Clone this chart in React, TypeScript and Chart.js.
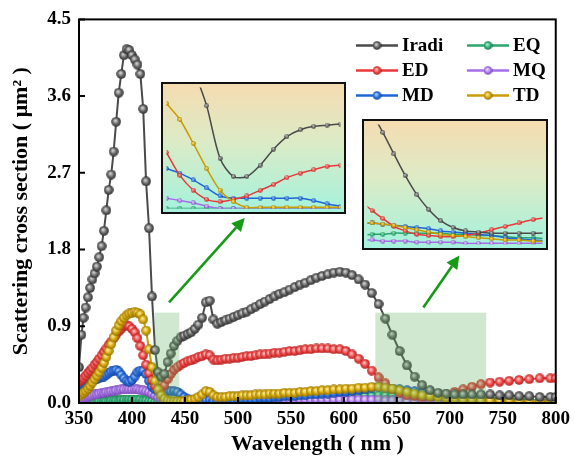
import React, { useEffect, useRef } from "react";
import { Chart, registerables } from "chart.js";
Chart.register(...registerables);

// ---------- DATA ----------
const WAVELENGTH = [
  350.0, 352.3, 354.3, 356.3, 358.4, 360.5, 362.6, 364.7, 366.9, 369.0,
  371.3, 373.5, 375.8, 378.0, 380.4, 382.7, 385.1, 387.5, 389.9, 392.4,
  394.9, 397.4, 400.0, 402.6, 405.2, 407.9, 410.6, 413.3, 416.1, 418.9,
  421.8, 424.7, 427.6, 430.6, 433.6, 436.6, 439.7, 442.9, 446.0, 449.3,
  452.6, 455.9, 459.3, 462.7, 466.2, 469.7, 473.3, 476.9, 480.6, 484.4,
  488.2, 492.1, 496.0, 500.0, 504.1, 508.2, 512.4, 516.7, 521.0, 525.4,
  529.9, 534.5, 539.1, 543.9, 548.7, 553.6, 558.6, 563.6, 568.8, 574.1,
  579.4, 584.9, 590.5, 596.2, 601.9, 607.8, 613.9, 620.0, 626.3, 632.7,
  639.2, 645.8, 652.6, 659.6, 666.7, 673.9, 681.3, 688.9, 696.6, 704.5,
  712.6, 720.9, 729.4, 738.1, 747.0, 756.1, 765.4, 775.0, 784.8, 794.9,
  800.0,
];

const IRADI = [
  0.42, 0.80, 1.00, 1.12, 1.24, 1.35, 1.45, 1.52, 1.60, 1.71,
  1.84, 2.02, 2.26, 2.50, 2.68, 2.95, 3.30, 3.64, 3.86, 4.08,
  4.15, 4.14, 4.08, 4.03, 3.97, 3.86, 3.45, 2.60, 2.05, 1.25,
  0.62, 0.36, 0.31, 0.34, 0.48, 0.58, 0.67, 0.73, 0.77, 0.79,
  0.81, 0.83, 0.87, 0.92, 1.00, 1.18, 1.20, 0.98, 0.93, 0.95,
  0.97, 0.99, 1.01, 1.03, 1.05, 1.07, 1.10, 1.13, 1.16, 1.19,
  1.22, 1.25, 1.28, 1.30, 1.33, 1.36, 1.39, 1.41, 1.44, 1.47,
  1.49, 1.51, 1.53, 1.54, 1.53, 1.50, 1.45, 1.39, 1.29, 1.16,
  0.99, 0.80, 0.61, 0.44, 0.31, 0.21, 0.15, 0.12, 0.11, 0.10,
  0.10, 0.10, 0.10, 0.10, 0.09, 0.09, 0.08, 0.08, 0.07, 0.07,
  0.07,
];

const ED = [
  0.25, 0.27, 0.29, 0.32, 0.35, 0.38, 0.41, 0.45, 0.48, 0.52,
  0.56, 0.60, 0.64, 0.68, 0.72, 0.76, 0.80, 0.84, 0.87, 0.90,
  0.91, 0.90, 0.87, 0.83, 0.76, 0.67, 0.56, 0.45, 0.35, 0.27,
  0.20, 0.16, 0.16, 0.21, 0.28, 0.34, 0.39, 0.42, 0.45, 0.47,
  0.49, 0.50, 0.52, 0.54, 0.55, 0.57, 0.56, 0.51, 0.50, 0.51,
  0.52, 0.52, 0.53, 0.53, 0.54, 0.55, 0.55, 0.56, 0.57, 0.57,
  0.58, 0.59, 0.59, 0.60, 0.61, 0.61, 0.62, 0.63, 0.63, 0.64,
  0.64, 0.64, 0.63, 0.63, 0.61, 0.57, 0.52, 0.46, 0.38, 0.30,
  0.23, 0.16, 0.12, 0.09, 0.08, 0.07, 0.07, 0.08, 0.10, 0.13,
  0.16, 0.19, 0.22, 0.24, 0.25, 0.26, 0.27, 0.28, 0.29, 0.29,
  0.29,
];

const MD = [
  0.20, 0.22, 0.23, 0.24, 0.25, 0.26, 0.26, 0.27, 0.28, 0.29,
  0.30, 0.31, 0.33, 0.35, 0.37, 0.38, 0.39, 0.37, 0.33, 0.29,
  0.26, 0.25, 0.27, 0.31, 0.36, 0.38, 0.38, 0.34, 0.26, 0.19,
  0.16, 0.14, 0.13, 0.13, 0.14, 0.14, 0.14, 0.13, 0.10, 0.07,
  0.05, 0.04, 0.03, 0.03, 0.03, 0.04, 0.04, 0.03, 0.03, 0.03,
  0.04, 0.04, 0.04, 0.04, 0.05, 0.05, 0.05, 0.05, 0.06, 0.06,
  0.06, 0.07, 0.07, 0.08, 0.08, 0.08, 0.09, 0.09, 0.10, 0.10,
  0.11, 0.11, 0.12, 0.13, 0.13, 0.14, 0.15, 0.16, 0.18, 0.19,
  0.18, 0.17, 0.16, 0.15, 0.14, 0.12, 0.11, 0.10, 0.09, 0.08,
  0.06, 0.05, 0.04, 0.03, 0.03, 0.02, 0.02, 0.02, 0.01, 0.01,
  0.01,
];

const EQ = [
  0.00, 0.00, 0.00, 0.01, 0.01, 0.01, 0.01, 0.01, 0.01, 0.02,
  0.02, 0.02, 0.02, 0.02, 0.03, 0.03, 0.03, 0.03, 0.04, 0.04,
  0.04, 0.04, 0.04, 0.04, 0.04, 0.04, 0.03, 0.03, 0.02, 0.02,
  0.01, 0.01, 0.01, 0.01, 0.01, 0.01, 0.01, 0.01, 0.01, 0.01,
  0.01, 0.01, 0.01, 0.01, 0.01, 0.02, 0.02, 0.01, 0.01, 0.01,
  0.02, 0.02, 0.02, 0.02, 0.02, 0.02, 0.02, 0.03, 0.03, 0.03,
  0.03, 0.03, 0.03, 0.04, 0.04, 0.04, 0.04, 0.04, 0.05, 0.05,
  0.05, 0.05, 0.06, 0.06, 0.06, 0.07, 0.07, 0.08, 0.08, 0.09,
  0.09, 0.10, 0.10, 0.10, 0.10, 0.10, 0.09, 0.09, 0.08, 0.08,
  0.07, 0.06, 0.06, 0.05, 0.05, 0.04, 0.04, 0.04, 0.03, 0.03,
  0.03,
];

const MQ = [
  0.03, 0.04, 0.05, 0.06, 0.07, 0.08, 0.09, 0.10, 0.10, 0.11,
  0.12, 0.12, 0.13, 0.13, 0.14, 0.14, 0.15, 0.15, 0.16, 0.16,
  0.16, 0.16, 0.16, 0.16, 0.16, 0.15, 0.15, 0.14, 0.13, 0.11,
  0.09, 0.07, 0.05, 0.03, 0.02, 0.01, 0.01, 0.01, 0.01, 0.01,
  0.01, 0.01, 0.01, 0.02, 0.02, 0.02, 0.02, 0.02, 0.02, 0.02,
  0.03, 0.03, 0.03, 0.03, 0.03, 0.03, 0.03, 0.03, 0.03, 0.03,
  0.04, 0.04, 0.04, 0.04, 0.04, 0.04, 0.04, 0.04, 0.04, 0.04,
  0.04, 0.04, 0.04, 0.04, 0.04, 0.04, 0.04, 0.04, 0.04, 0.04,
  0.03, 0.03, 0.03, 0.02, 0.02, 0.02, 0.02, 0.01, 0.01, 0.01,
  0.01, 0.01, 0.01, 0.01, 0.01, 0.01, 0.01, 0.01, 0.01, 0.01,
  0.01,
];

const TD = [
  0.08, 0.10, 0.12, 0.14, 0.17, 0.20, 0.24, 0.28, 0.32, 0.36,
  0.41, 0.47, 0.54, 0.61, 0.69, 0.77, 0.85, 0.91, 0.96, 1.00,
  1.03, 1.05, 1.06, 1.07, 1.06, 1.04, 0.98, 0.85, 0.63, 0.42,
  0.26, 0.16, 0.09, 0.05, 0.03, 0.02, 0.02, 0.02, 0.02, 0.02,
  0.03, 0.04, 0.05, 0.07, 0.10, 0.14, 0.13, 0.09, 0.07, 0.07,
  0.07, 0.08, 0.08, 0.08, 0.09, 0.09, 0.09, 0.10, 0.10, 0.10,
  0.11, 0.11, 0.11, 0.12, 0.12, 0.12, 0.13, 0.13, 0.14, 0.14,
  0.15, 0.15, 0.16, 0.16, 0.17, 0.17, 0.18, 0.18, 0.19, 0.19,
  0.18, 0.17, 0.15, 0.13, 0.11, 0.09, 0.08, 0.07, 0.06, 0.05,
  0.04, 0.04, 0.03, 0.03, 0.03, 0.03, 0.02, 0.02, 0.02, 0.02,
  0.02,
];

// Inset 1 (zoom of 421–447 nm)
const INSET1_WAVELENGTH = [421, 423, 425, 427, 429, 431, 433, 435, 437, 439, 441, 443, 445, 447];
const INSET1_IRADI = [2.20, 1.70, 1.24, 0.90, 0.44, 0.28, 0.28, 0.38, 0.52, 0.63, 0.69, 0.72, 0.73, 0.74];
const INSET1_ED = [0.49, 0.29, 0.16, 0.08, 0.06, 0.08, 0.11, 0.16, 0.21, 0.27, 0.31, 0.34, 0.37, 0.38];
const INSET1_MD = [0.35, 0.31, 0.25, 0.18, 0.11, 0.09, 0.09, 0.09, 0.09, 0.09, 0.09, 0.07, 0.04, 0.02];
const INSET1_EQ = [0.00, 0.00, 0.00, 0.00, 0.00, 0.00, 0.00, 0.00, 0.00, 0.00, 0.00, 0.00, 0.00, 0.00];
const INSET1_MQ = [0.09, 0.07, 0.05, 0.02, 0.00, 0.00, 0.00, 0.00, 0.00, 0.00, 0.00, 0.00, 0.00, 0.00];
const INSET1_TD = [0.92, 0.78, 0.57, 0.35, 0.16, 0.06, 0.01, 0.01, 0.01, 0.01, 0.01, 0.01, 0.01, 0.01];

// Highlighted regions [from, to] nm, up to a value, and arrows (data coords)
const ZOOM_REGIONS = [[421.3, 444.7], [629.7, 734.4]];
const ZOOM_TOP = 1.06;
const INSET2_RANGE = [630, 735];
const ARROWS = [
  { from: [435, 1.18], to: [506.5, 2.17] },
  { from: [675, 1.12], to: [709, 1.73] },
];

// ---------- STYLE ----------
const SERIF = '"Liberation Serif", "Times New Roman", serif';
type Sty = { line: string; base: string; light: string; dark: string };
const STYLE: Record<string, Sty> = {
  Iradi: { line: "#4a4a4a", base: "#6a6a6a", light: "#dcdcdc", dark: "#262626" },
  ED: { line: "#e8383c", base: "#ec4848", light: "#ffcaca", dark: "#b01a1a" },
  MD: { line: "#1e66d8", base: "#2f74e0", light: "#b8d6ff", dark: "#0f3f9a" },
  EQ: { line: "#2aa56c", base: "#33b077", light: "#bdf6da", dark: "#137048" },
  MQ: { line: "#a56ee6", base: "#b07eea", light: "#f0e6ff", dark: "#7040b0" },
  TD: { line: "#c99c00", base: "#d6a80c", light: "#fff2a6", dark: "#8c6c00" },
};

function sphere(s: Sty, size: number): HTMLCanvasElement {
  const c = document.createElement("canvas");
  c.width = size;
  c.height = size;
  const g = c.getContext("2d")!;
  const r = size / 2;
  const grad = g.createRadialGradient(r * 0.8, r * 0.75, r * 0.05, r, r, r);
  grad.addColorStop(0, s.light);
  grad.addColorStop(0.55, s.base);
  grad.addColorStop(1, s.dark);
  g.fillStyle = grad;
  g.beginPath();
  g.arc(r, r, r - 0.2, 0, Math.PI * 2);
  g.fill();
  return c;
}

function series(xs: number[], ys: number[]) {
  return xs.map((x, i) => ({ x, y: ys[i] }));
}

const MAIN_SERIES: [string, number[]][] = [
  ["Iradi", IRADI],
  ["TD", TD],
  ["ED", ED],
  ["MD", MD],
  ["MQ", MQ],
  ["EQ", EQ],
];
const INSET1_SERIES: [string, number[]][] = [
  ["Iradi", INSET1_IRADI],
  ["TD", INSET1_TD],
  ["ED", INSET1_ED],
  ["MD", INSET1_MD],
  ["MQ", INSET1_MQ],
  ["EQ", INSET1_EQ],
];

const LEGEND_ITEMS: [string, number, number][] = [
  ["Iradi", 0, 0],
  ["ED", 0, 1],
  ["MD", 0, 2],
  ["EQ", 1, 0],
  ["MQ", 1, 1],
  ["TD", 1, 2],
];

function drawArrow(ctx: CanvasRenderingContext2D, x1: number, y1: number, x2: number, y2: number) {
  const ang = Math.atan2(y2 - y1, x2 - x1);
  const head = 13;
  const hw = 6.5;
  const bx = x2 - head * Math.cos(ang);
  const by = y2 - head * Math.sin(ang);
  ctx.beginPath();
  ctx.moveTo(x1, y1);
  ctx.lineTo(bx, by);
  ctx.stroke();
  ctx.beginPath();
  ctx.moveTo(x2, y2);
  ctx.lineTo(bx + hw * Math.sin(ang), by - hw * Math.cos(ang));
  ctx.lineTo(bx - hw * Math.sin(ang), by + hw * Math.cos(ang));
  ctx.closePath();
  ctx.fill();
}

function makeMain(canvas: HTMLCanvasElement) {
  const markers: Record<string, HTMLCanvasElement> = {};
  const legendMarkers: Record<string, HTMLCanvasElement> = {};
  Object.keys(STYLE).forEach((k) => {
    markers[k] = sphere(STYLE[k], 10);
    legendMarkers[k] = sphere(STYLE[k], 9);
  });

  const overlay = {
    id: "overlay",
    afterDatasetsDraw(chart: any) {
      const { ctx, scales } = chart;
      const x = scales.x;
      const y = scales.y;
      ctx.save();
      ctx.fillStyle = "rgba(95,178,95,0.3)";
      ZOOM_REGIONS.forEach(([a, b]) => {
        const x1 = x.getPixelForValue(a);
        const x2 = x.getPixelForValue(b);
        const yt = y.getPixelForValue(ZOOM_TOP);
        const yb = y.getPixelForValue(0);
        ctx.fillRect(x1, yt, x2 - x1, yb - yt);
      });
      ctx.strokeStyle = "#179b17";
      ctx.fillStyle = "#179b17";
      ctx.lineWidth = 2.6;
      ARROWS.forEach((a) => {
        drawArrow(
          ctx,
          x.getPixelForValue(a.from[0]),
          y.getPixelForValue(a.from[1]),
          x.getPixelForValue(a.to[0]),
          y.getPixelForValue(a.to[1])
        );
      });
      ctx.restore();
    },
    afterDraw(chart: any) {
      const { ctx, chartArea, scales } = chart;
      const { left, right, top, bottom } = chartArea;
      ctx.save();
      ctx.strokeStyle = "#000";
      ctx.lineWidth = 2;
      ctx.strokeRect(left, top, right - left, bottom - top);
      ctx.beginPath();
      scales.x.ticks.forEach((t: any) => {
        const px = scales.x.getPixelForValue(t.value);
        ctx.moveTo(px, bottom);
        ctx.lineTo(px, bottom - 6);
      });
      scales.y.ticks.forEach((t: any) => {
        const py = scales.y.getPixelForValue(t.value);
        ctx.moveTo(left, py);
        ctx.lineTo(left + 6, py);
      });
      ctx.stroke();

      // legend
      const colX = [left + 277, left + 388];
      const rowY = [top + 26, top + 51, top + 76];
      ctx.font = `bold 19px ${SERIF}`;
      ctx.textBaseline = "middle";
      ctx.textAlign = "left";
      LEGEND_ITEMS.forEach(([name, c, r]) => {
        const x0 = colX[c];
        const yy = rowY[r];
        ctx.strokeStyle = STYLE[name].line;
        ctx.lineWidth = 2.5;
        ctx.beginPath();
        ctx.moveTo(x0, yy);
        ctx.lineTo(x0 + 42, yy);
        ctx.stroke();
        const m = legendMarkers[name];
        ctx.drawImage(m, x0 + 21 - m.width / 2, yy - m.height / 2);
        ctx.fillStyle = "#000";
        ctx.fillText(name, x0 + 46, yy + 1);
      });
      ctx.restore();
    },
  };

  return new Chart(canvas, {
    type: "line",
    data: {
      datasets: MAIN_SERIES.map(([name, vals]) => ({
        label: name,
        data: series(WAVELENGTH, vals),
        borderColor: STYLE[name].line,
        borderWidth: 2,
        pointStyle: markers[name] as any,
        pointRadius: 5,
        tension: 0,
        fill: false,
      })),
    },
    options: {
      animation: false,
      responsive: false,
      devicePixelRatio: 1,
      layout: { padding: { left: 0, right: 16, top: 17, bottom: 0 } },
      plugins: { legend: { display: false }, tooltip: { enabled: false } },
      scales: {
        x: {
          type: "linear",
          min: 350,
          max: 800,
          ticks: {
            stepSize: 50,
            color: "#000",
            padding: 5,
            maxRotation: 0,
            autoSkip: false,
            font: { family: SERIF, size: 19, weight: "bold" },
          },
          grid: { display: false, drawTicks: false },
          border: { display: false },
          title: {
            display: true,
            text: "Wavelength ( nm )",
            color: "#000",
            font: { family: SERIF, size: 22, weight: "bold" },
            padding: { top: 0, bottom: 0 },
          },
          afterFit(s: any) {
            s.height = 55;
          },
        },
        y: {
          type: "linear",
          min: 0,
          max: 4.5,
          ticks: {
            stepSize: 0.9,
            color: "#000",
            padding: 8,
            font: { family: SERIF, size: 19, weight: "bold" },
            callback: (v: any) => Number(v).toFixed(1),
          },
          grid: { display: false, drawTicks: false },
          border: { display: false },
          title: {
            display: true,
            text: "Scattering cross section ( μm² )",
            color: "#000",
            font: { family: SERIF, size: 22, weight: "bold" },
            padding: { top: 8, bottom: 0 },
          },
          afterFit(s: any) {
            s.width = 79;
          },
        },
      },
    } as any,
    plugins: [overlay],
  });
}

function makeInset(
  canvas: HTMLCanvasElement,
  xs: number[],
  list: [string, number[]][],
  xmin: number,
  xmax: number
) {
  const markers: Record<string, HTMLCanvasElement> = {};
  Object.keys(STYLE).forEach((k) => (markers[k] = sphere(STYLE[k], 5)));
  const deco = {
    id: "deco",
    beforeDraw(chart: any) {
      const { ctx, width, height } = chart;
      const g = ctx.createLinearGradient(0, 0, 0, height);
      g.addColorStop(0, "#f6dbb0");
      g.addColorStop(0.45, "#dcebc6");
      g.addColorStop(1, "#a2f2de");
      ctx.save();
      ctx.fillStyle = g;
      ctx.fillRect(0, 0, width, height);
      ctx.restore();
    },
    afterDraw(chart: any) {
      const { ctx, width, height } = chart;
      ctx.save();
      ctx.strokeStyle = "#111";
      ctx.lineWidth = 2;
      ctx.strokeRect(1, 1, width - 2, height - 2);
      ctx.restore();
    },
  };
  return new Chart(canvas, {
    type: "line",
    data: {
      datasets: list.map(([name, vals]) => ({
        label: name,
        data: series(xs, vals),
        borderColor: STYLE[name].line,
        borderWidth: 1.5,
        pointStyle: markers[name] as any,
        pointRadius: 2.5,
        tension: 0.3,
        fill: false,
      })),
    },
    options: {
      animation: false,
      responsive: false,
      devicePixelRatio: 1,
      layout: { padding: 0 },
      plugins: { legend: { display: false }, tooltip: { enabled: false } },
      scales: {
        x: { type: "linear", min: xmin, max: xmax, display: false },
        y: { type: "linear", min: 0, max: ZOOM_TOP, display: false },
      },
    } as any,
    plugins: [deco],
  });
}

export default function App() {
  const mainRef = useRef<HTMLCanvasElement>(null);
  const in1Ref = useRef<HTMLCanvasElement>(null);
  const in2Ref = useRef<HTMLCanvasElement>(null);

  useEffect(() => {
    document.body.style.margin = "0";
    const charts = [
      makeMain(mainRef.current!),
      makeInset(in1Ref.current!, INSET1_WAVELENGTH, INSET1_SERIES, INSET1_WAVELENGTH[0], INSET1_WAVELENGTH[INSET1_WAVELENGTH.length - 1]),
      makeInset(in2Ref.current!, WAVELENGTH, MAIN_SERIES, INSET2_RANGE[0], INSET2_RANGE[1]),
    ];
    return () => charts.forEach((c) => c.destroy());
  }, []);

  return (
    <div style={{ position: "relative", width: 575, height: 458, background: "#fff", overflow: "hidden" }}>
      <canvas ref={mainRef} width={575} height={458} style={{ position: "absolute", left: 0, top: 0 }} />
      <canvas ref={in1Ref} width={185} height={132} style={{ position: "absolute", left: 161, top: 82 }} />
      <canvas ref={in2Ref} width={186} height={131} style={{ position: "absolute", left: 362, top: 119 }} />
    </div>
  );
}
